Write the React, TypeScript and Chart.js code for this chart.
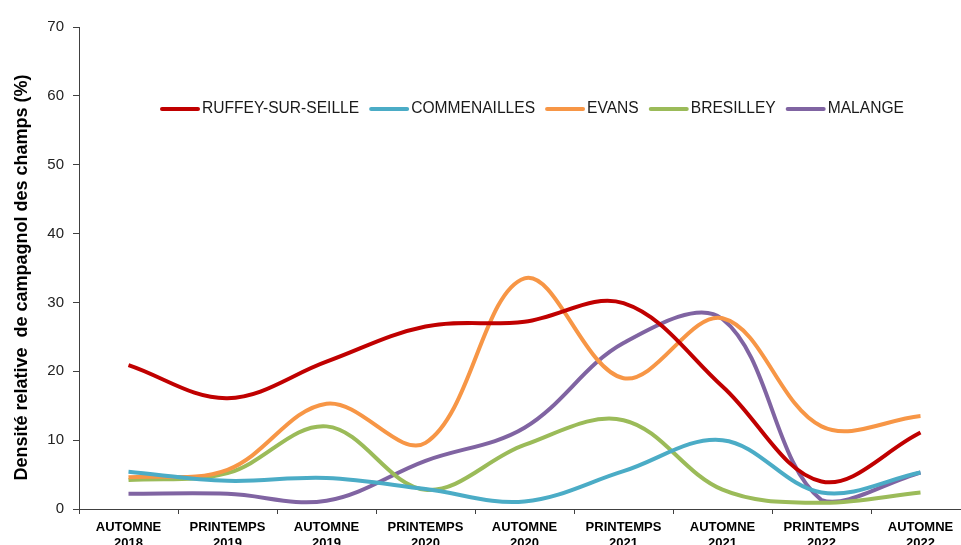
import React, { useEffect, useRef } from "react";
import { Chart, registerables } from "chart.js";

Chart.register(...registerables);

const categories: string[][] = [
  ["AUTOMNE", "2018"],
  ["PRINTEMPS", "2019"],
  ["AUTOMNE", "2019"],
  ["PRINTEMPS", "2020"],
  ["AUTOMNE", "2020"],
  ["PRINTEMPS", "2021"],
  ["AUTOMNE", "2021"],
  ["PRINTEMPS", "2022"],
  ["AUTOMNE", "2022"],
];

const ruffey = [20.9, 16.1, 21.4, 26.5, 27.2, 29.9, 17.8, 4.0, 11.1];
const commenailles = [5.4, 4.1, 4.5, 2.9, 1.1, 5.5, 10.0, 2.4, 5.3];
const evans = [4.6, 5.7, 15.3, 9.6, 33.5, 19.0, 27.7, 12.0, 13.5];
const bresilley = [4.2, 5.2, 12.0, 2.8, 9.3, 12.9, 2.8, 0.9, 2.4];
const malange = [2.2, 2.2, 1.2, 7.0, 11.8, 24.1, 27.6, 1.3, 5.3];

const seriesNames = ["RUFFEY-SUR-SEILLE", "COMMENAILLES", "EVANS", "BRESILLEY", "MALANGE"];
const seriesColors = ["#C00000", "#4BACC6", "#F79646", "#9BBB59", "#8064A2"];
const seriesValues = [ruffey, commenailles, evans, bresilley, malange];

const yTitle = "Densité relative  de campagnol des champs (%)";

const FONT = "'Liberation Sans', Arial, sans-serif";

const overlayPlugin = {
  id: "overlay",
  afterDraw(chart: any) {
    const ctx = chart.ctx;
    const area = chart.chartArea;
    ctx.save();
    // Legend
    ctx.font = `15.6px ${FONT}`;
    ctx.textBaseline = "middle";
    let x = 162;
    const y = 109;
    chart.data.datasets.forEach((ds: any) => {
      ctx.strokeStyle = ds.borderColor;
      ctx.lineWidth = 4;
      ctx.lineCap = "round";
      ctx.beginPath();
      ctx.moveTo(x, y);
      ctx.lineTo(x + 36, y);
      ctx.stroke();
      x += 40;
      ctx.fillStyle = "#1a1a1a";
      ctx.fillText(ds.label, x, y);
      x += ctx.measureText(ds.label).width + 12;
    });
    // Y title
    ctx.font = `bold 18px ${FONT}`;
    ctx.fillStyle = "#000";
    ctx.textAlign = "center";
    ctx.textBaseline = "middle";
    ctx.translate(22, (area.top + area.bottom) / 2 + 9.5);
    ctx.rotate(-Math.PI / 2);
    ctx.fillText(yTitle, 0, 0);
    ctx.restore();
  },
};

export default function App() {
  const ref = useRef<HTMLCanvasElement | null>(null);
  useEffect(() => {
    if (!ref.current) return;
    const chart = new Chart(ref.current, {
      type: "line",
      data: {
        labels: categories,
        datasets: seriesNames.map((name, i) => ({
          label: name,
          data: seriesValues[i],
          borderColor: seriesColors[i],
          backgroundColor: seriesColors[i],
          borderWidth: 4,
          pointRadius: 0,
          tension: 0.36,
          fill: false,
        })),
      },
      options: {
        animation: false,
        responsive: false,
        devicePixelRatio: 1,
        layout: { padding: { top: 27, right: 5, left: 0, bottom: 0 } },
        plugins: {
          legend: { display: false },
          tooltip: { enabled: false },
        },
        scales: {
          x: {
            type: "category",
            offset: true,
            grid: {
              display: true,
              drawOnChartArea: false,
              offset: true,
              tickLength: 5,
              color: "#404040",
            },
            border: { display: true, color: "#404040", width: 1 },
            ticks: {
              autoSkip: false,
              maxRotation: 0,
              minRotation: 0,
              padding: 6,
              color: "#000",
              font: { family: FONT, size: 13, weight: "bold" },
            },
            afterFit(scale: any) {
              scale.height = 36;
            },
          },
          y: {
            min: 0,
            max: 70,
            ticks: {
              stepSize: 10,
              padding: 9,
              color: "#222",
              font: { family: FONT, size: 15 },
            },
            grid: {
              display: true,
              drawOnChartArea: false,
              tickLength: 6,
              color: "#404040",
            },
            border: { display: true, color: "#404040", width: 1 },
            afterFit(scale: any) {
              scale.width = 79;
            },
          },
        },
      },
      plugins: [overlayPlugin],
    } as any);
    return () => chart.destroy();
  }, []);
  return (
    <div
      style={{
        position: "fixed",
        left: 0,
        top: 0,
        width: 961,
        height: 545,
        overflow: "hidden",
        background: "#fff",
      }}
    >
      <canvas ref={ref} width={975} height={545} style={{ display: "block" }} />
    </div>
  );
}
